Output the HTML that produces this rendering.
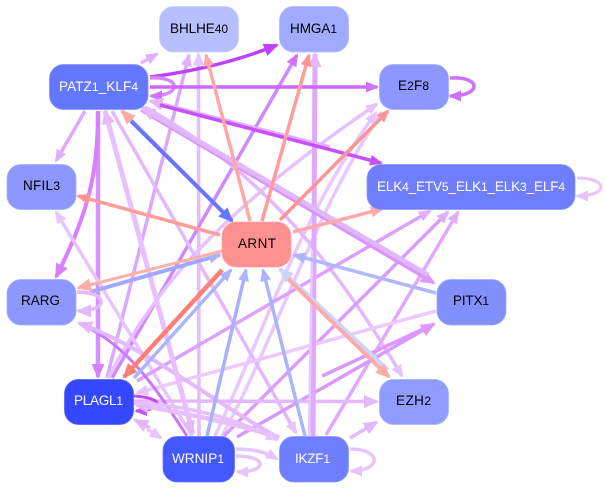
<!DOCTYPE html>
<html>
<head>
<meta charset="utf-8">
<style>
html,body{margin:0;padding:0;background:#fff;}
svg{display:block;}
text{font-family:"Liberation Sans",sans-serif;font-size:13.5px;text-anchor:start;}
tspan{font-size:12px;}
.w{fill:#fff;}
.k{fill:#000;}
svg>path{fill:none;stroke-linecap:butt;}
</style>
</head>
<body>
<svg width="606" height="489" viewBox="0 0 606 489" xmlns="http://www.w3.org/2000/svg">
<defs>
<marker id="a" markerUnits="userSpaceOnUse" markerWidth="14" markerHeight="12" refX="11" refY="6" orient="auto"><path d="M0,0.5 L13,6 L0,11.5z" fill="#e0b0ff"/></marker>
<marker id="b" markerUnits="userSpaceOnUse" markerWidth="14" markerHeight="12" refX="11" refY="6" orient="auto"><path d="M0,0.5 L13,6 L0,11.5z" fill="#e8c4ff"/></marker>
<marker id="c" markerUnits="userSpaceOnUse" markerWidth="14" markerHeight="12" refX="11" refY="6" orient="auto"><path d="M0,0.5 L13,6 L0,11.5z" fill="#d070ff"/></marker>
<marker id="d" markerUnits="userSpaceOnUse" markerWidth="16" markerHeight="15" refX="13" refY="7" orient="auto"><path d="M0,0.5 L15,7 L0,13.5z" fill="#c040ff"/></marker>
<marker id="d2" markerUnits="userSpaceOnUse" markerWidth="14" markerHeight="12" refX="11" refY="6" orient="auto"><path d="M0,0.5 L13,6 L0,11.5z" fill="#c850ff"/></marker>
<marker id="e" markerUnits="userSpaceOnUse" markerWidth="14" markerHeight="12" refX="11" refY="6" orient="auto"><path d="M0,0.5 L13,6 L0,11.5z" fill="#ffa8a8"/></marker>
<marker id="f" markerUnits="userSpaceOnUse" markerWidth="14" markerHeight="12" refX="11" refY="6" orient="auto"><path d="M0,0.5 L13,6 L0,11.5z" fill="#ff9494"/></marker>
<marker id="g" markerUnits="userSpaceOnUse" markerWidth="14" markerHeight="12" refX="11" refY="6" orient="auto"><path d="M0,0.5 L13,6 L0,11.5z" fill="#aab4ff"/></marker>
<marker id="h" markerUnits="userSpaceOnUse" markerWidth="16" markerHeight="15" refX="13" refY="7" orient="auto"><path d="M0,0.5 L15,7 L0,13.5z" fill="#6478ff"/></marker>
<marker id="i" markerUnits="userSpaceOnUse" markerWidth="16" markerHeight="15" refX="13" refY="7" orient="auto"><path d="M0,0.5 L15,7 L0,13.5z" fill="#d880ff"/></marker>
<marker id="j" markerUnits="userSpaceOnUse" markerWidth="16" markerHeight="15" refX="13" refY="7" orient="auto"><path d="M0,0.5 L15,7 L0,13.5z" fill="#ff7f78"/></marker>
<marker id="k" markerUnits="userSpaceOnUse" markerWidth="16" markerHeight="15" refX="13" refY="7" orient="auto"><path d="M0,0.5 L15,7 L0,13.5z" fill="#ccd4ff"/></marker>
<marker id="l" markerUnits="userSpaceOnUse" markerWidth="16" markerHeight="15" refX="13" refY="7" orient="auto"><path d="M0,0.5 L15,7 L0,13.5z" fill="#ffaca8"/></marker>
<marker id="m" markerUnits="userSpaceOnUse" markerWidth="16" markerHeight="15" refX="13" refY="7" orient="auto"><path d="M0,0.5 L15,7 L0,13.5z" fill="#dd98ff"/></marker>
<marker id="n" markerUnits="userSpaceOnUse" markerWidth="16" markerHeight="15" refX="13" refY="7" orient="auto"><path d="M0,0.5 L15,7 L0,13.5z" fill="#e4b8ff"/></marker>
</defs>

<!-- long pale lines -->
<path d="M199,436 L198.5,54" stroke="#e6bcff" stroke-width="3.5" marker-end="url(#b)"/>
<path d="M107,378 L189,55" stroke="#dca8ff" stroke-width="3.5" marker-end="url(#a)"/>
<path d="M112,378 L297,55" stroke="#d088ff" stroke-width="3.5" marker-end="url(#c)"/>
<path d="M108,378 C150,300 200,225 377,104" stroke="#e6c0ff" stroke-width="3.5" marker-end="url(#b)"/>
<path d="M215,436 C265,330 300,215 376,113" stroke="#e8c8ff" stroke-width="3.5" marker-end="url(#b)"/>
<path d="M222,436 C275,340 315,210 382,112" stroke="#e8c8ff" stroke-width="3.5"/>
<path d="M98,111 L98,377" stroke="#d890ff" stroke-width="4.5" marker-end="url(#i)"/>
<path d="M98,111 C98,170 90,210 56,277" stroke="#d880ff" stroke-width="4" marker-end="url(#i)"/>
<path d="M85,111 L56,161" stroke="#e0a8ff" stroke-width="3.5" marker-end="url(#a)"/>
<path d="M141,63 L157,54" stroke="#e3b4ff" stroke-width="3.5" marker-end="url(#a)"/>
<path d="M192,436 L56,212" stroke="#e8c4ff" stroke-width="3.5" marker-end="url(#b)"/>
<path d="M112,111 L296,433" stroke="#e4b8ff" stroke-width="3.5" marker-end="url(#b)"/>
<path d="M145,107 C230,155 310,220 402,376" stroke="#e4b8ff" stroke-width="3.5" marker-end="url(#b)"/>
<path d="M137,381 L430,211" stroke="#dda0ff" stroke-width="3.5" marker-end="url(#a)"/>
<path d="M224,436 L448,212" stroke="#dc9cff" stroke-width="3.5" marker-end="url(#a)"/>
<path d="M326,435 L458,212" stroke="#e0a8ff" stroke-width="3.5" marker-end="url(#a)"/>
<path d="M237,437 L434,324" stroke="#d898ff" stroke-width="3.5" marker-end="url(#m)"/>
<path d="M322,376 L434,324" stroke="#dd98ff" stroke-width="3.5"/>
<path d="M436,311 L137,393" stroke="#eec8ff" stroke-width="3.5" marker-end="url(#b)"/>
<path d="M134,401 L377,401.5" stroke="#e4b8ff" stroke-width="3.5" marker-end="url(#n)"/>
<path d="M350,438 L377,422" stroke="#e4b8ff" stroke-width="3.5" marker-end="url(#n)"/>
<path d="M187,436 C160,395 130,345 80,324" stroke="#c878ff" stroke-width="3"/>
<path d="M279,438 C210,400 150,350 79,323" stroke="#e4b8ff" stroke-width="4" marker-end="url(#n)"/>
<path d="M134,396 C165,398 165,410 136,411" stroke="#c848ff" stroke-width="3" marker-end="url(#d2)"/>
<path d="M279,437 C220,420 180,412 136,405" stroke="#e8c0ff" stroke-width="4.5" marker-end="url(#n)"/>
<path d="M134,403 C190,405 240,420 277,440" stroke="#e8c0ff" stroke-width="3.5" marker-end="url(#b)"/>
<path d="M150,428 L135,420" stroke="#e0b0ff" stroke-width="3.5" marker-end="url(#n)"/>
<path d="M147,429 L161,438" stroke="#ecc8ff" stroke-width="3.5" marker-end="url(#b)"/>
<path d="M193,434 L105,111" stroke="#e8c0ff" stroke-width="5" marker-end="url(#n)"/>
<path d="M105,112 L192,434" stroke="#e8c0ff" stroke-width="3" marker-end="url(#n)"/>
<path d="M313,436 L315,54" stroke="#e0a8ff" stroke-width="5" marker-end="url(#n)"/>
<path d="M309,436 L312,250" stroke="#e8c8ff" stroke-width="2.5"/>

<!-- PATZ1 connections -->
<path d="M150,77 Q220,68 277,45" stroke="#c040ff" stroke-width="3.5" marker-end="url(#d)"/>
<path d="M150,78 C182,76 182,96 151,96" stroke="#d888ff" stroke-width="3.5" marker-end="url(#c)"/>
<path d="M150,87 L377,87" stroke="#d066ff" stroke-width="3.5" marker-end="url(#c)"/>
<path d="M330,147 L150,101" stroke="#e0b0ff" stroke-width="3.5" marker-end="url(#n)"/>
<path d="M160,105 L381,163" stroke="#c850ff" stroke-width="3.5" marker-end="url(#d2)"/>
<path d="M141,110 L434,283" stroke="#dd90ff" stroke-width="3.5" marker-end="url(#m)"/>
<path d="M428,275 L142,108" stroke="#e0b8ff" stroke-width="5" marker-end="url(#n)"/>

<!-- ARNT connections -->
<path d="M250,221 L206,55" stroke="#ffa8a8" stroke-width="3.5" marker-end="url(#e)"/>
<path d="M262,221 L309,55" stroke="#ff9c9c" stroke-width="3.5" marker-end="url(#f)"/>
<path d="M280,220 L388,111" stroke="#ff9494" stroke-width="3.5" marker-end="url(#f)"/>
<path d="M293,232 L382,209" stroke="#ffaaaa" stroke-width="3.5" marker-end="url(#e)"/>
<path d="M220,235 L78,196" stroke="#ff9c9c" stroke-width="3.5" marker-end="url(#f)"/>
<path d="M222,211 L122,111" stroke="#ffb0a8" stroke-width="4" marker-end="url(#l)"/>
<path d="M131,121 L232,221" stroke="#6478ff" stroke-width="4" marker-end="url(#h)"/>
<path d="M90,292 L220,255" stroke="#a0a8ff" stroke-width="4" marker-end="url(#g)"/>
<path d="M222,251 L78,288" stroke="#ffb0a8" stroke-width="3" marker-end="url(#l)"/>
<path d="M134,378 L231,270" stroke="#aab4ff" stroke-width="3.5" marker-end="url(#g)"/>
<path d="M222,270 L124,377" stroke="#ff7f78" stroke-width="4.5" marker-end="url(#j)"/>
<path d="M388,370 L280,269" stroke="#ccd4ff" stroke-width="4" marker-end="url(#k)"/>
<path d="M288,279 L389,377" stroke="#ffaaa8" stroke-width="4" marker-end="url(#l)"/>
<path d="M436,293 L294,255" stroke="#b0b8ff" stroke-width="3.5" marker-end="url(#g)"/>
<path d="M207,436 L246,270" stroke="#a8b0ff" stroke-width="3.5" marker-end="url(#g)"/>
<path d="M305,436 L263,270" stroke="#acb4ff" stroke-width="3.5" marker-end="url(#g)"/>

<!-- self loops and short edges -->
<path d="M450,78 C482,76 482,96 450,96" stroke="#d070ff" stroke-width="3.5" marker-end="url(#c)"/>
<path d="M577,178 C609,178 609,196 577,196" stroke="#e8c4ff" stroke-width="3" marker-end="url(#b)"/>
<path d="M77,292 C109,292 109,311 78,311" stroke="#e4b8ff" stroke-width="3.5" marker-end="url(#n)"/>
<path d="M236,449 C255,449 265,452 277,459" stroke="#e8c4ff" stroke-width="3.5" marker-end="url(#b)"/>
<path d="M236,456 C268,456 268,472 237,472" stroke="#e8c4ff" stroke-width="3.5" marker-end="url(#b)"/>
<path d="M350,449 C382,449 382,471 351,471" stroke="#e8c4ff" stroke-width="3.5" marker-end="url(#b)"/>

<!-- nodes -->
<g stroke-width="0.8">
<rect x="159.5" y="6.5" width="79" height="45.5" rx="14" fill="#b8bfff" stroke="#c8ceff"/>
<rect x="279.5" y="6.5" width="69" height="45.5" rx="14" fill="#a0aaff" stroke="#b4bcff"/>
<rect x="49.5" y="64.5" width="98.5" height="45" rx="14" fill="#6478ff" stroke="#8494ff"/>
<rect x="379.5" y="64.5" width="69" height="45" rx="14" fill="#8c98ff" stroke="#a4aeff"/>
<rect x="7" y="164.5" width="69" height="45" rx="14" fill="#8c98ff" stroke="#a4aeff"/>
<rect x="367" y="164.5" width="208" height="45" rx="14" fill="#6e7eff" stroke="#8a98ff"/>
<rect x="222" y="222" width="69" height="45" rx="14" fill="#ff9090" stroke="#ffa8a8"/>
<rect x="7" y="279.5" width="69" height="45.5" rx="14" fill="#8c98ff" stroke="#a4aeff"/>
<rect x="437" y="279.5" width="69" height="45.5" rx="14" fill="#8290ff" stroke="#9caaff"/>
<rect x="64.5" y="379.5" width="69" height="45" rx="14" fill="#3448ff" stroke="#5666ff"/>
<rect x="379.5" y="379.5" width="69" height="45" rx="14" fill="#909cff" stroke="#a8b2ff"/>
<rect x="163" y="436.5" width="71.5" height="45.5" rx="14" fill="#4458ff" stroke="#6676ff"/>
<rect x="279.5" y="436.5" width="69" height="45.5" rx="14" fill="#6e7eff" stroke="#8a98ff"/>
</g>

<!-- labels -->
<text class="k" x="170" y="33" textLength="58" lengthAdjust="spacing">BHLHE<tspan>40</tspan></text>
<text class="k" x="290" y="33" textLength="47" lengthAdjust="spacing">HMGA<tspan>1</tspan></text>
<text class="w" x="59" y="91" textLength="79" lengthAdjust="spacing">PATZ<tspan>1</tspan>_KLF<tspan>4</tspan></text>
<text class="k" x="398" y="90" textLength="31" lengthAdjust="spacing">E<tspan>2</tspan>F<tspan>8</tspan></text>
<text class="k" x="23" y="190" textLength="37" lengthAdjust="spacing">NFIL<tspan>3</tspan></text>
<text class="w" x="377" y="191" textLength="188" lengthAdjust="spacing">ELK<tspan>4</tspan>_ETV<tspan>5</tspan>_ELK<tspan>1</tspan>_ELK<tspan>3</tspan>_ELF<tspan>4</tspan></text>
<text class="k" x="238" y="248" textLength="38" lengthAdjust="spacing">ARNT</text>
<text class="k" x="21" y="305" textLength="39" lengthAdjust="spacing">RARG</text>
<text class="k" x="453" y="305" textLength="36" lengthAdjust="spacing">PITX<tspan>1</tspan></text>
<text class="w" x="74" y="405" textLength="49" lengthAdjust="spacing">PLAGL<tspan>1</tspan></text>
<text class="k" x="396" y="405" textLength="35" lengthAdjust="spacing">EZH<tspan>2</tspan></text>
<text class="w" x="172" y="463" textLength="52" lengthAdjust="spacing">WRNIP<tspan>1</tspan></text>
<text class="w" x="295" y="463" textLength="35" lengthAdjust="spacing">IKZF<tspan>1</tspan></text>
</svg>
</body>
</html>
